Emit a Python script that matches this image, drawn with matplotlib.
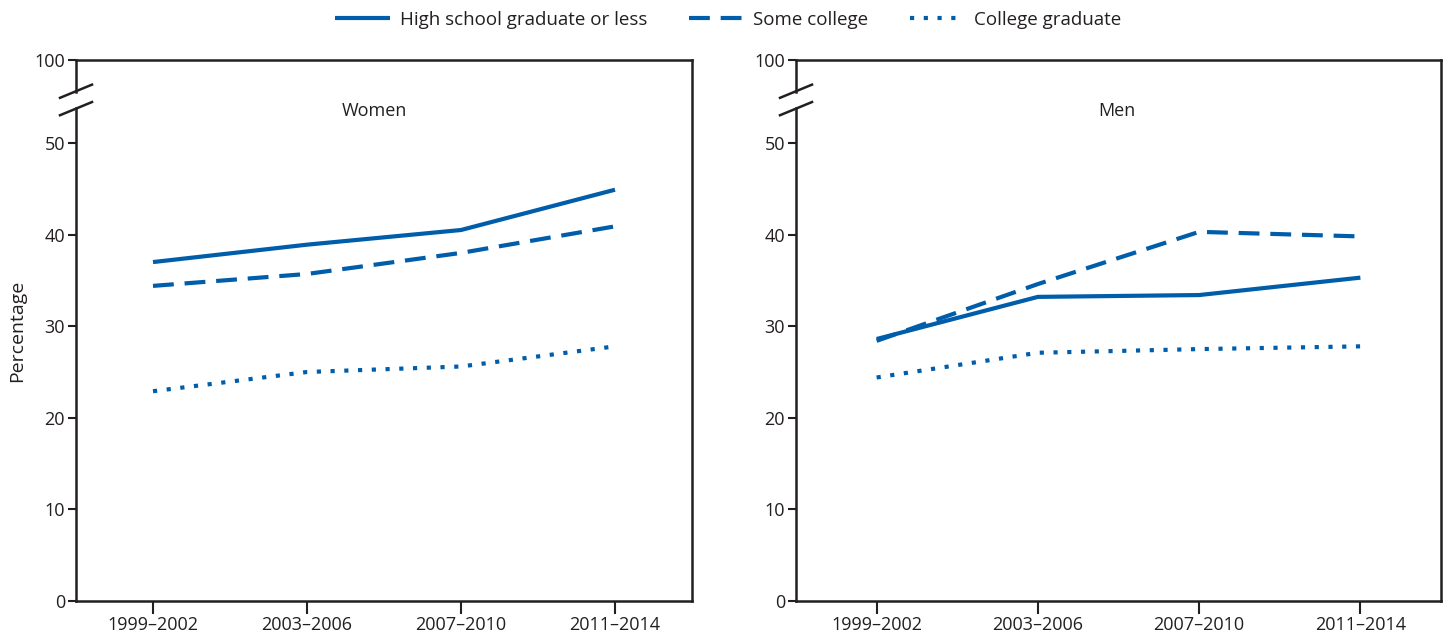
import matplotlib
matplotlib.use("Agg")
import matplotlib.pyplot as plt
from matplotlib.lines import Line2D

plt.rcParams['font.family'] = ['Open Sans', 'DejaVu Sans']

periods = ["1999–2002", "2003–2006", "2007–2010", "2011–2014"]
series_names = ["High school graduate or less", "Some college", "College graduate"]

women_hs = [37.0, 38.9, 40.5, 44.9]
women_some = [34.4, 35.7, 38.0, 40.9]
women_grad = [22.9, 25.0, 25.6, 27.8]

men_hs = [28.6, 33.2, 33.4, 35.3]
men_some = [28.4, 34.6, 40.3, 39.8]
men_grad = [24.4, 27.1, 27.5, 27.8]

yticks = [0, 10, 20, 30, 40, 50]
top_label = "100"

BLUE = "#005DAA"
DARK = "#231F20"
LW = 3.0
TOP = 59.06  # position of the "100" tick on the broken axis
styles = [dict(linestyle="-"),
          dict(linestyle=(0, (5.0, 2.6))),
          dict(linestyle=(0, (1.0, 2.3)), dash_capstyle="butt")]

fig = plt.figure(figsize=(14.48, 6.37), dpi=100)
H = 637.0
W = 1448.0
ax1 = fig.add_axes([76 / W, (H - 601) / H, 616 / W, 541 / H])
ax2 = fig.add_axes([796 / W, (H - 601) / H, 645 / W, 541 / H])

FS = 13

def setup(ax, data, title, title_x):
    x = list(range(len(periods)))
    for vals, st in zip(data, styles):
        ax.plot(x, vals, color=BLUE, lw=LW, solid_capstyle="butt", **st)
    ax.set_xlim(-0.5, 3.5)
    ax.set_ylim(0, TOP)
    ax.set_xticks(x)
    ax.set_xticklabels(periods, fontsize=FS, color=DARK)
    ax.set_yticks(yticks + [TOP])
    ax.set_yticklabels([str(v) for v in yticks] + [top_label], fontsize=FS, color=DARK)
    ax.tick_params(axis="y", length=6, width=1.5, color=DARK, pad=2)
    ax.tick_params(axis="x", length=9, width=1.5, color=DARK, pad=2)
    for s in ["top", "right", "bottom", "left"]:
        ax.spines[s].set_linewidth(1.8)
        ax.spines[s].set_color(DARK)
    # broken left spine
    gap_lo, gap_hi = 53.8, 55.6
    ax.spines["left"].set_bounds(0, gap_lo)
    tr = ax.get_yaxis_transform()
    ax.add_line(Line2D([0, 0], [gap_hi, TOP], transform=tr, color=DARK,
                       lw=1.8, clip_on=False, solid_capstyle="projecting"))
    bbox = ax.get_position()
    dx = 16 / (bbox.width * W)
    dy = 0.72
    for yc in (gap_lo - 0.05, gap_hi + 0.05):
        ax.add_line(Line2D([-dx, dx], [yc - dy, yc + dy], transform=tr,
                           color=DARK, lw=1.8, clip_on=False))
    ax.text(title_x, 53.5, title, transform=tr, ha="center", va="center",
            fontsize=FS, color=DARK)

setup(ax1, [women_hs, women_some, women_grad], "Women", 0.485)
setup(ax2, [men_hs, men_some, men_grad], "Men", 0.497)
ax1.set_ylabel("Percentage", fontsize=14, color=DARK, labelpad=6)

handles = [Line2D([], [], color=BLUE, lw=LW, solid_capstyle="butt", **st) for st in styles]
fig.legend(handles, series_names, loc="center", bbox_to_anchor=(0.503, 1 - 20 / H),
           ncol=3, frameon=False, fontsize=13.5, handlelength=2.9, handletextpad=0.55,
           columnspacing=2.2, labelcolor=DARK)

fig.savefig("out.png", dpi=100)
